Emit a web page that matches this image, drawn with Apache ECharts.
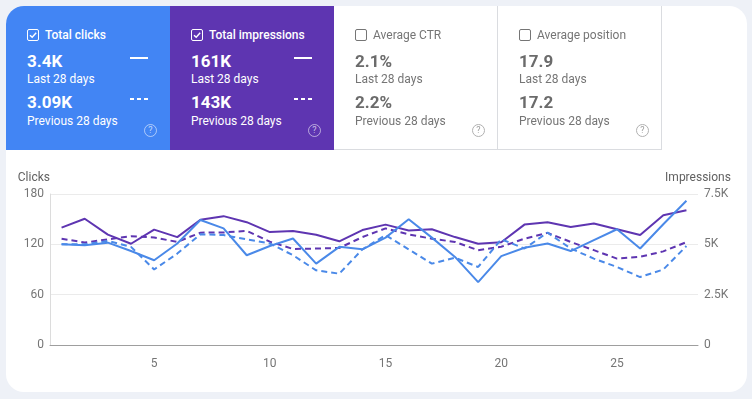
<!DOCTYPE html>
<html>
<head>
<meta charset="utf-8">
<script src="https://cdn.jsdelivr.net/npm/echarts@6/dist/echarts.min.js"></script>
<style>
  html, body { margin: 0; padding: 0; background: #eef1f7; font-family: Roboto, "Noto Sans", sans-serif; }
  .page { position: relative; width: 752px; height: 399px; overflow: hidden; }
  .card { position: absolute; left: 6px; top: 6px; width: 741px; height: 386px; background: #fff; border-radius: 18px; }
  #chart { position: absolute; left: 0; top: 0; width: 752px; height: 399px; }
  .tile { position: absolute; top: 6px; height: 144px; width: 164px; box-sizing: border-box; }
  .tile.clicks { left: 6px; background: #4285f4; color: #fff; border-top-left-radius: 18px; }
  .tile.impr { left: 170px; background: #5e35b1; color: #fff; }
  .tile.ctr { left: 334px; border-right: 1px solid #dadce0; border-bottom: 1px solid #dadce0; color: #757575; }
  .tile.pos { left: 498px; border-right: 1px solid #dadce0; border-bottom: 1px solid #dadce0; color: #757575; }
  .title { position: absolute; left: 21px; top: 22px; font-size: 12px; font-weight: 500; line-height: 14px; }
  .tile.ctr .title, .tile.pos .title { font-weight: 400; }
  .box { display: inline-block; width: 10px; height: 10px; border: 1.3px solid currentColor; border-radius: 2px; vertical-align: -2px; margin-right: 6px; position: relative; }
  .box svg { position: absolute; left: 0; top: 0; }
  .val { position: absolute; left: 21px; font-size: 17px; font-weight: 700; line-height: 20px; }
  .lab { position: absolute; left: 21px; font-size: 12px; line-height: 14px; }
  .tile.ctr .val, .tile.pos .val { color: #6b6b6b; }
  .v1 { top: 45px; } .l1 { top: 66px; } .v2 { top: 86px; } .l2 { top: 108px; }
  .seg { position: absolute; left: 124px; width: 18px; height: 2px; }
  .seg.s1 { top: 51px; }
  .seg.s2 { top: 92px; }
  .help { position: absolute; left: 138px; top: 118px; width: 11px; height: 11px; border: 1.2px solid; border-radius: 50%; font-size: 9px; line-height: 11px; text-align: center; }
  .tile.clicks .help, .tile.impr .help { border-color: rgba(255,255,255,0.55); color: rgba(255,255,255,0.7); }
  .tile.ctr .help, .tile.pos .help { border-color: #b0b0b0; color: #9e9e9e; }
</style>
</head>
<body>
<div class="page">
  <div class="card"></div>
  <div id="chart"></div>

  <div class="tile clicks">
    <div class="title"><span class="box"><svg width="10" height="10" viewBox="0 0 10 10"><path d="M2 5.2 L4.2 7.3 L8.2 2.8" stroke="#fff" stroke-width="1.4" fill="none"/></svg></span>Total clicks</div>
    <div class="val v1">3.4K</div><div class="lab l1">Last 28 days</div>
    <div class="val v2">3.09K</div><div class="lab l2">Previous 28 days</div>
    <svg class="seg s1" viewBox="0 0 18 2"><line x1="0" y1="1" x2="18" y2="1" stroke="#fff" stroke-width="2"/></svg>
    <svg class="seg s2" viewBox="0 0 18 2"><line x1="0" y1="1" x2="18" y2="1" stroke="#fff" stroke-width="2" stroke-dasharray="4 3"/></svg>
    <div class="help">?</div>
  </div>
  <div class="tile impr">
    <div class="title"><span class="box"><svg width="10" height="10" viewBox="0 0 10 10"><path d="M2 5.2 L4.2 7.3 L8.2 2.8" stroke="#fff" stroke-width="1.4" fill="none"/></svg></span>Total impressions</div>
    <div class="val v1">161K</div><div class="lab l1">Last 28 days</div>
    <div class="val v2">143K</div><div class="lab l2">Previous 28 days</div>
    <svg class="seg s1" viewBox="0 0 18 2"><line x1="0" y1="1" x2="18" y2="1" stroke="#fff" stroke-width="2"/></svg>
    <svg class="seg s2" viewBox="0 0 18 2"><line x1="0" y1="1" x2="18" y2="1" stroke="#fff" stroke-width="2" stroke-dasharray="4 3"/></svg>
    <div class="help">?</div>
  </div>
  <div class="tile ctr">
    <div class="title"><span class="box"></span>Average CTR</div>
    <div class="val v1">2.1%</div><div class="lab l1">Last 28 days</div>
    <div class="val v2">2.2%</div><div class="lab l2">Previous 28 days</div>
    <div class="help">?</div>
  </div>
  <div class="tile pos">
    <div class="title"><span class="box"></span>Average position</div>
    <div class="val v1">17.9</div><div class="lab l1">Last 28 days</div>
    <div class="val v2">17.2</div><div class="lab l2">Previous 28 days</div>
    <div class="help">?</div>
  </div>
</div>

<script>
// days 1..28
const days = Array.from({ length: 28 }, (_, i) => String(i + 1));

// clicks (left axis)
const clicksLast = [120, 119, 122, 112, 101, 121, 149, 139, 107, 118, 127, 97, 117, 114,
                    128, 150, 128, 105, 75, 106, 116, 121, 112, 125, 138, 115, 144, 172];
const clicksPrev = [120, 120, 124, 117, 90, 109, 132, 131, 126, 121, 107, 89, 85, 114,
                    131, 114, 97, 104, 93, 126, 115, 134, 115, 103, 93, 81, 90, 118];

// impressions (right axis)
const imprLast = [5830, 6270, 5480, 5030, 5730, 5360, 6220, 6400, 6100, 5610, 5660, 5480, 5150, 5710,
                  5980, 5690, 5750, 5360, 5030, 5100, 5980, 6100, 5860, 6030, 5750, 5460, 6440, 6690];
const imprPrev = [5280, 5090, 5250, 5400, 5340, 5120, 5580, 5590, 5670, 5130, 4770, 4790, 4820, 5360,
                  5790, 5490, 5280, 5120, 4710, 4880, 5280, 5570, 5120, 4710, 4290, 4380, 4650, 5110];

const clicksTicks = [0, 60, 120, 180];
const imprTicks = [0, 2500, 5000, 7500];

const BLUE = '#4a89e8';
const PURPLE = '#5e35b1';

const chart = echarts.init(document.getElementById('chart'));

const fmtK = v => (v === 0 ? '0' : (v / 1000) + 'K');

chart.setOption({
  animation: false,
  textStyle: { fontFamily: 'Roboto' },
  grid: { left: 50, right: 54, top: 194, bottom: 54 },
  xAxis: {
    type: 'category',
    data: days,
    boundaryGap: true,
    axisLine: { lineStyle: { color: '#9e9e9e' } },
    axisTick: { show: false },
    axisLabel: {
      color: '#757575', fontSize: 12, margin: 13,
      interval: (i) => (i + 1) % 5 === 0
    }
  },
  yAxis: [
    {
      type: 'value',
      min: clicksTicks[0], max: clicksTicks[clicksTicks.length - 1], interval: 60,
      name: 'Clicks', nameGap: 16,
      nameTextStyle: { color: '#616161', fontSize: 12, align: 'right', verticalAlign: 'middle' },
      axisLine: { show: true, lineStyle: { color: '#dcdcdc' } },
      axisTick: { show: false },
      axisLabel: { color: '#757575', fontSize: 12, margin: 6 },
      splitLine: { lineStyle: { color: '#ebebeb' } }
    },
    {
      type: 'value',
      min: imprTicks[0], max: imprTicks[imprTicks.length - 1], interval: 2500,
      name: 'Impressions', nameGap: 16,
      nameTextStyle: { color: '#616161', fontSize: 12, align: 'center', verticalAlign: 'middle' },
      axisLine: { show: false },
      axisTick: { show: false },
      axisLabel: { color: '#757575', fontSize: 12, margin: 6, formatter: fmtK },
      splitLine: { show: false }
    }
  ],
  series: [
    { name: 'Impressions', type: 'line', yAxisIndex: 1, data: imprLast, showSymbol: false,
      lineStyle: { color: PURPLE, width: 2 } },
    { name: 'Impressions (previous)', type: 'line', yAxisIndex: 1, data: imprPrev, showSymbol: false,
      lineStyle: { color: PURPLE, width: 2, type: [6, 4] } },
    { name: 'Clicks', type: 'line', yAxisIndex: 0, data: clicksLast, showSymbol: false,
      lineStyle: { color: BLUE, width: 2 } },
    { name: 'Clicks (previous)', type: 'line', yAxisIndex: 0, data: clicksPrev, showSymbol: false,
      lineStyle: { color: BLUE, width: 2, type: [6, 4] } }
  ]
});
</script>
</body>
</html>
